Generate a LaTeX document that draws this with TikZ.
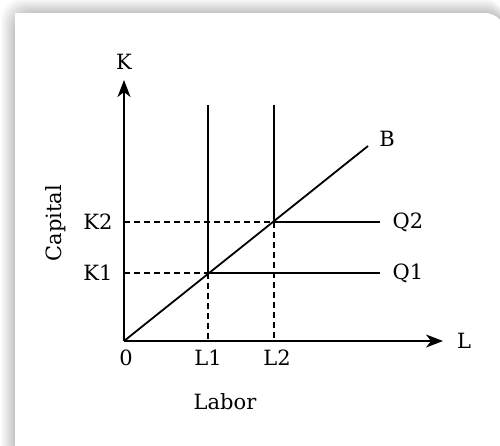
\documentclass[tikz,border=0pt]{standalone}
\usepackage{fontspec}
\setmainfont{DejaVu Serif}
\usetikzlibrary{arrows.meta}
\begin{document}
\begin{tikzpicture}[x=1pt,y=-1pt,
  ln/.style={line width=1.8pt},
  dsh/.style={line width=1.6pt, dash pattern=on 6pt off 4pt},
  lbl/.style={font=\fontsize{21}{25}\selectfont, inner sep=0pt},
  axis/.style={line width=1.8pt, -{Stealth[length=17pt,width=13pt,inset=5pt]}}]
\useasboundingbox (0,0) rectangle (500,445);
\fill[white] (0,0) rectangle (500,445);
\foreach \i in {1,...,14} \fill[black,opacity=0.016,rounded corners=20] (15-\i,13-\i) rectangle (505,470);
\fill[white,rounded corners=20] (15,13) rectangle (505,470);
\fill[white] (15,13) rectangle (60,60);
% coordinates
\coordinate (O) at (124,341);
\coordinate (Ytop) at (124,80);
\coordinate (Xend) at (443,341);
\coordinate (L1top) at (208,105);
\coordinate (P1) at (208,273);
\coordinate (L1base) at (208,341);
\coordinate (K1ax) at (124,273);
\coordinate (Q1end) at (380,273);
\coordinate (L2top) at (274,105);
\coordinate (P2) at (274,222);
\coordinate (L2base) at (274,341);
\coordinate (K2ax) at (124,222);
\coordinate (Q2end) at (380,222);
\coordinate (Bend) at (368,146);
% axes
\draw[axis] (O) -- (Ytop);
\draw[axis] (O) -- (Xend);
% isoquants
\draw[ln] (L1top) -- (P1) -- (Q1end);
\draw[ln] (L2top) -- (P2) -- (Q2end);
\draw[ln] (O) -- (Bend);
% dashed guides
\draw[dsh] (K1ax) -- (P1);
\draw[dsh] (P1) -- (L1base);
\draw[dsh] (K2ax) -- (P2);
\draw[dsh] (P2) -- (L2base);
% labels
\node[lbl] (Klab) at (124,62) {K};
\node[lbl] (Llab) at (464,341) {L};
\node[lbl] (K1lab) at (98,273) {K1};
\node[lbl] (K2lab) at (98,222) {K2};
\node[lbl] (Zlab) at (126,358) {0};
\node[lbl] (L1lab) at (208,358) {L1};
\node[lbl] (L2lab) at (277,358) {L2};
\node[lbl] (Q1lab) at (408,273) {Q1};
\node[lbl] (Q2lab) at (408,222) {Q2};
\node[lbl] (Blab) at (387,139) {B};
\node[lbl] (Labor) at (225,402) {Labor};
\node[lbl,rotate=90] (Capital) at (56,223) {Capital};
\end{tikzpicture}
\end{document}
